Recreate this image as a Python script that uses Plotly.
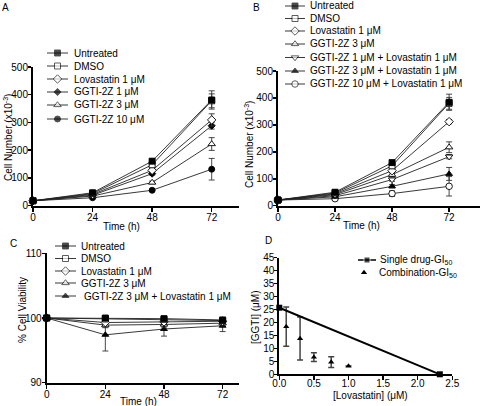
import plotly.graph_objects as go

# ---------------- data ----------------
time_h = [0, 24, 48, 72]

# Panel A: cell number (x10^-3)
a_names = ["Untreated", "DMSO", "Lovastatin 1 μM", "GGTI-2Z 1 μM", "GGTI-2Z 3 μM", "GGTI-2Z 10 μM"]
a_untreated = [17, 46, 160, 381]
a_dmso = [17, 43, 147, 378]
a_lova = [17, 40, 127, 309]
a_ggti1 = [17, 37, 115, 288]
a_ggti3 = [17, 34, 83, 222]
a_ggti10 = [17, 28, 55, 131]
a_untreated_err = [1, 3, 8, 33]
a_dmso_err = [1, 3, 8, 25]
a_lova_err = [1, 2, 6, 22]
a_ggti1_err = [1, 2, 5, 12]
a_ggti3_err = [1, 2, 5, 23]
a_ggti10_err = [1, 2, 4, 39]

# Panel B: cell number (x10^-3)
b_names = ["Untreated", "DMSO", "Lovastatin 1 μM", "GGTI-2Z 3 μM",
           "GGTI-2Z 1 μM + Lovastatin 1 μM", "GGTI-2Z 3 μM + Lovastatin 1 μM",
           "GGTI-2Z 10 μM + Lovastatin 1 μM"]
b_untreated = [21, 50, 160, 384]
b_dmso = [21, 47, 148, 380]
b_lova = [21, 44, 130, 312]
b_ggti3 = [21, 41, 115, 217]
b_g1l = [21, 37, 97, 182]
b_g3l = [21, 33, 72, 118]
b_g10l = [21, 26, 45, 72]
b_untreated_err = [1, 3, 8, 30]
b_dmso_err = [1, 3, 8, 22]
b_lova_err = [1, 2, 6, 8]
b_ggti3_err = [1, 2, 6, 20]
b_g1l_err = [1, 2, 6, 8]
b_g3l_err = [1, 2, 6, 24]
b_g10l_err = [1, 2, 10, 36]

# Panel C: % cell viability
c_names = ["Untreated", "DMSO", "Lovastatin 1 μM", "GGTI-2Z 3 μM", "GGTI-2Z 3 μM + Lovastatin 1 μM"]
c_untreated = [100, 100, 99.9, 99.7]
c_dmso = [100, 99.85, 99.8, 99.6]
c_lova = [100, 99.3, 99.4, 99.5]
c_ggti3 = [100, 98.9, 99.0, 99.2]
c_combo = [100, 97.4, 98.3, 98.8]
c_untreated_err = [0, 0.2, 0.2, 0.2]
c_dmso_err = [0, 0.2, 0.2, 0.2]
c_lova_err = [0, 0.3, 0.3, 0.3]
c_ggti3_err = [0, 0.4, 0.4, 0.4]
c_combo_err = [0, 2.5, 1.1, 0.9]

# Panel D: isobologram
d_single_lova = [0, 2.32]
d_single_ggti = [25.7, 0]
d_combo_lova = [0.1, 0.3, 0.5, 0.75, 1.0]
d_combo_ggti = [18.4, 13.8, 6.6, 4.7, 3.2]
d_combo_err = [7.6, 8.3, 1.7, 2.1, 0]

# ---------------- helpers ----------------
W, H = 480, 406
FONT = "Liberation Sans, Arial, sans-serif"


def xd(px):
    return px / W


def yd(py):
    return 1 - py / H


def mk(sym, filled, size):
    return dict(symbol=sym, size=size, color="black" if filled else "white",
                line=dict(color="black", width=0.9))


STY = {
    "Untreated": mk("square", True, 6),
    "DMSO": mk("square", False, 6),
    "Lovastatin 1 μM": mk("diamond", False, 6.5),
    "GGTI-2Z 1 μM": mk("diamond", True, 5.5),
    "GGTI-2Z 3 μM": mk("triangle-up", False, 6.5),
    "GGTI-2Z 10 μM": mk("circle", True, 6),
    "GGTI-2Z 1 μM + Lovastatin 1 μM": mk("triangle-down", False, 6.5),
    "GGTI-2Z 3 μM + Lovastatin 1 μM": mk("triangle-up", True, 6),
    "GGTI-2Z 10 μM + Lovastatin 1 μM": mk("circle", False, 6.5),
}

fig = go.Figure()


def add_series(xa, ya, x, y, err, name):
    fig.add_trace(go.Scatter(
        x=x, y=y, mode="lines+markers", xaxis=xa, yaxis=ya,
        line=dict(color="#222", width=0.9), marker=STY[name],
        error_y=dict(type="data", array=err, thickness=0.9, width=3, color="#333"),
        cliponaxis=False, showlegend=False, name=name))


a_vals = [a_untreated, a_dmso, a_lova, a_ggti1, a_ggti3, a_ggti10]
a_errs = [a_untreated_err, a_dmso_err, a_lova_err, a_ggti1_err, a_ggti3_err, a_ggti10_err]
for n, v, e in reversed(list(zip(a_names, a_vals, a_errs))):
    add_series("x", "y", time_h, v, e, n)

b_vals = [b_untreated, b_dmso, b_lova, b_ggti3, b_g1l, b_g3l, b_g10l]
b_errs = [b_untreated_err, b_dmso_err, b_lova_err, b_ggti3_err, b_g1l_err, b_g3l_err, b_g10l_err]
for n, v, e in reversed(list(zip(b_names, b_vals, b_errs))):
    add_series("x2", "y2", time_h, v, e, n)

c_vals = [c_untreated, c_dmso, c_lova, c_ggti3, c_combo]
c_errs = [c_untreated_err, c_dmso_err, c_lova_err, c_ggti3_err, c_combo_err]
c_keys = ["Untreated", "DMSO", "Lovastatin 1 μM", "GGTI-2Z 3 μM", "GGTI-2Z 3 μM + Lovastatin 1 μM"]
for n, v, e in reversed(list(zip(c_keys, c_vals, c_errs))):
    add_series("x3", "y3", time_h, v, e, n)

# Panel D
fig.add_trace(go.Scatter(
    x=d_combo_lova, y=d_combo_ggti, mode="markers", xaxis="x4", yaxis="y4",
    marker=dict(symbol="triangle-up", size=5.5, color="black"),
    error_y=dict(type="data", array=d_combo_err, thickness=1.5, width=3, color="#444"),
    cliponaxis=False, showlegend=False))
fig.add_trace(go.Scatter(
    x=d_single_lova, y=d_single_ggti, mode="lines+markers", xaxis="x4", yaxis="y4",
    line=dict(color="black", width=2), marker=dict(symbol="square", size=6, color="black"),
    cliponaxis=False, showlegend=False))

# ---------------- manual legends (pixel overlay axis) ----------------
leg_items = []  # (x0, x1, y, style, text, textx)
for i, n in enumerate(a_names):
    leg_items.append((47, 68, [53, 66, 79, 92, 105, 119][i], STY[n], n, 72))
for i, n in enumerate(b_names):
    leg_items.append((285, 305, [6, 18.5, 31, 44, 57.5, 71, 84][i], STY[n], n, 308))
for i, n in enumerate(c_names):
    leg_items.append((55, 76, [246, 258.5, 271, 283, 296][i], STY[c_keys[i]], n,
                      79 if i < 4 else 82))

annotations = []
for x0, x1, y, st, txt_, tx in leg_items:
    fig.add_trace(go.Scatter(
        x=[x0, (x0 + x1) / 2, x1], y=[y, y, y], mode="lines+markers", xaxis="x5", yaxis="y5",
        line=dict(color="#222", width=0.9),
        marker=dict(symbol=st["symbol"], size=[0, st["size"], 0], color=st["color"],
                    line=st["line"]),
        cliponaxis=False, showlegend=False, hoverinfo="skip"))
    annotations.append(dict(x=xd(tx), y=yd(y), xref="paper", yref="paper", text=txt_,
                            showarrow=False, xanchor="left", yanchor="middle",
                            font=dict(size=10, family=FONT, color="black")))

# D legend
fig.add_trace(go.Scatter(
    x=[358, 367, 376], y=[260, 260, 260], mode="lines+markers", xaxis="x5", yaxis="y5",
    line=dict(color="black", width=1.5),
    marker=dict(symbol="square", size=[0, 6, 0], color="black"),
    cliponaxis=False, showlegend=False, hoverinfo="skip"))
fig.add_trace(go.Scatter(
    x=[364], y=[272.5], mode="markers", xaxis="x5", yaxis="y5",
    marker=dict(symbol="triangle-up", size=5.5, color="black"),
    cliponaxis=False, showlegend=False, hoverinfo="skip"))
annotations.append(dict(x=xd(378), y=yd(260), xref="paper", yref="paper",
                        text="Single drug-GI<sub>50</sub>", showarrow=False,
                        xanchor="left", yanchor="middle",
                        font=dict(size=10, family=FONT, color="black")))
annotations.append(dict(x=xd(377), y=yd(272.5), xref="paper", yref="paper",
                        text="Combination-GI<sub>50</sub>", showarrow=False,
                        xanchor="left", yanchor="middle",
                        font=dict(size=10, family=FONT, color="black")))


# panel letters and axis titles
def txt(x, y, s, angle=0, size=10):
    annotations.append(dict(x=xd(x), y=yd(y), xref="paper", yref="paper", text=s,
                            showarrow=False, xanchor="center", yanchor="middle",
                            textangle=angle, font=dict(size=size, family=FONT, color="black")))


txt(5, 8, "A")
txt(256, 7, "B")
txt(13, 243, "C")
txt(268, 240, "D")
txt(8, 138, "Cell Number (x10<sup>-3</sup>)", -90)
txt(121, 226, "Time (h)")
txt(249, 145, "Cell Number (x10<sup>-3</sup>)", -90)
txt(361, 225, "Time (h)")
txt(22, 310, "% Cell Viability", -90)
txt(138, 401, "Time (h)")
txt(255, 317, "[GGTI] (μM)", -90)
txt(370, 395, "[Lovastatin] (μM)")


# ---------------- axes ----------------
def ax(domain, rng, tickvals, fmt=None, anchor=None, standoff=-2, ticklen=4):
    d = dict(domain=domain, range=rng, tickvals=tickvals, showline=True, linewidth=2,
             linecolor="black", ticks="outside", ticklen=ticklen, tickwidth=1.5,
             tickcolor="black", ticklabelstandoff=standoff,
             showgrid=False, zeroline=False, mirror=False, automargin=False,
             tickfont=dict(size=10, family=FONT, color="black"), anchor=anchor)
    if fmt:
        d["tickformat"] = fmt
    return d


layout = dict(
    template="none",
    width=W, height=H, margin=dict(l=0, r=0, t=0, b=0, pad=0), autosize=False,
    paper_bgcolor="white", plot_bgcolor="rgba(0,0,0,0)",
    xaxis=ax([xd(33), xd(239)], [0, 83], [0, 24, 48, 72], anchor="y", standoff=-3),
    yaxis=ax([yd(205.5), yd(67)], [0, 500], [0, 100, 200, 300, 400, 500], anchor="x", ticklen=3),
    xaxis2=ax([xd(278), xd(480)], [0, 85], [0, 24, 48, 72], anchor="y2", standoff=-3),
    yaxis2=ax([yd(205.7), yd(71)], [0, 500], [0, 100, 200, 300, 400, 500], anchor="x2", ticklen=3),
    xaxis3=ax([xd(46.7), xd(239)], [0, 78.7], [0, 24, 48, 72], anchor="y3", standoff=-3),
    yaxis3=ax([yd(382.7), yd(253.3)], [90, 110], [90, 100, 110], anchor="x3", ticklen=3),
    xaxis4=ax([xd(279.3), xd(452.3)], [0, 2.5], [0, 0.5, 1.0, 1.5, 2.0, 2.5], ".1f",
              anchor="y4", standoff=-5),
    yaxis4=ax([yd(374.3), yd(257.7)], [0, 45], list(range(0, 50, 5)), anchor="x4", ticklen=3),
    xaxis5=dict(domain=[0, 1], range=[0, W], visible=False, anchor="y5", automargin=False),
    yaxis5=dict(domain=[0, 1], range=[H, 0], visible=False, anchor="x5", automargin=False),
    annotations=annotations,
    font=dict(family=FONT, color="black"),
    hovermode=False,
)
fig.update_layout(**layout)
fig.write_html("out.html",
               config={"displayModeBar": False, "staticPlot": True},
               post_script="document.body.style.margin='0';document.body.style.padding='0';")
